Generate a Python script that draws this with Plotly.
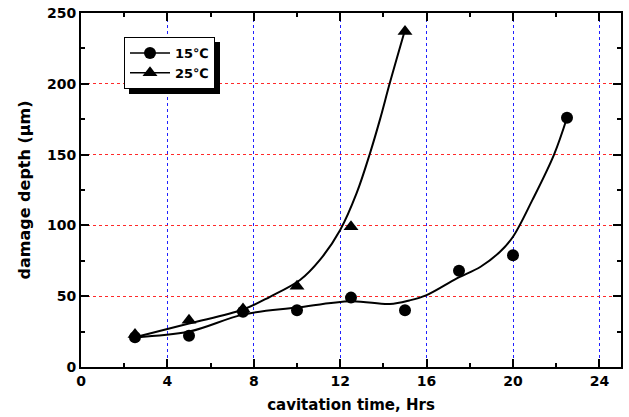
import plotly.graph_objects as go

# measured points
x15 = [2.5, 5, 7.5, 10, 12.5, 15, 17.5, 20, 22.5]
y15 = [21, 22, 39, 40, 49, 40, 68, 79, 176]
x25 = [2.5, 5, 7.5, 10, 12.5, 15]
y25 = [23, 33, 41, 57, 99, 237]

# fitted curves
cx15 = [2.5, 5, 7.5, 10, 12.5, 14.3, 15.2, 16, 17.4, 18.5, 19.4, 20, 20.9, 21.9, 22.5]
cy15 = [21, 25, 37, 42, 46.5, 44.5, 47, 50.8, 62.6, 70.8, 81.4, 92, 118, 150, 176]
cx25 = [2.5, 5, 7.5, 8.75, 10.14, 11.06, 12, 12.76, 13.38, 13.84, 14.3, 15]
cy25 = [21, 30.7, 40.6, 49.6, 61.4, 75.6, 96.8, 122.8, 151, 174.7, 200.7, 238]

legend_names = ["15℃", "25℃"]

FONT = "DejaVu Sans"

fig = go.Figure()

fig.add_trace(go.Scatter(x=cx15, y=cy15, mode="lines", line=dict(color="black", width=2, shape="spline", smoothing=1), showlegend=False, hoverinfo="skip"))
fig.add_trace(go.Scatter(x=cx25, y=cy25, mode="lines", line=dict(color="black", width=2, shape="spline", smoothing=1), showlegend=False, hoverinfo="skip"))
fig.add_trace(go.Scatter(x=x15, y=y15, mode="markers", marker=dict(symbol="circle", size=12, color="black"), showlegend=False))
fig.add_trace(go.Scatter(x=x25, y=y25, mode="markers", marker=dict(symbol="triangle-up", size=13, color="black"), showlegend=False))

# legend entries
fig.add_trace(go.Scatter(x=[None], y=[None], mode="lines+markers", name=legend_names[0],
                         line=dict(color="black", width=1.5), marker=dict(symbol="circle", size=12, color="black")))
fig.add_trace(go.Scatter(x=[None], y=[None], mode="lines+markers", name=legend_names[1],
                         line=dict(color="black", width=1.5), marker=dict(symbol="triangle-up", size=13, color="black")))

axis_common = dict(
    showline=True, linecolor="black", linewidth=2, mirror="allticks",
    ticks="inside", ticklen=8, tickwidth=1.5, tickcolor="black",
    zeroline=False, showgrid=True, griddash="dot", gridwidth=1,
    automargin=False,
    tickfont=dict(family=FONT, size=14, color="black", weight="bold"),
)

W, H = 629, 417
L, R, T, B = 81, 8, 13, 50
PW, PH = W - L - R, H - T - B

def px(xp):
    return (xp - L) / PW

def py(yp):
    return (H - B - yp) / PH

fig.update_layout(
    width=W, height=H,
    margin=dict(l=L, r=R, t=T, b=B),
    paper_bgcolor="white", plot_bgcolor="white",
    xaxis=dict(range=[0, 25], dtick=4, tick0=0, gridcolor="#2020ff",
               minor=dict(dtick=2, ticks="inside", ticklen=4, tickwidth=1.5, tickcolor="black", showgrid=False),
               title=dict(text="cavitation time, Hrs", font=dict(family=FONT, size=15, color="black", weight="bold"), standoff=12),
               **axis_common),
    yaxis=dict(range=[0, 250], dtick=50, tick0=0, gridcolor="#ff2a2a",
               minor=dict(dtick=25, ticks="inside", ticklen=4, tickwidth=1.5, tickcolor="black", showgrid=False),
               title=dict(text="damage depth (μm)", font=dict(family=FONT, size=16, color="black", weight="bold"), standoff=12),
               **axis_common),
    legend=dict(x=px(124), y=py(37), xanchor="left", yanchor="top",
                bgcolor="white", bordercolor="black", borderwidth=1,
                font=dict(family=FONT, size=13, color="black", weight="bold"),
                tracegroupgap=0, itemwidth=40),
    shapes=[dict(type="rect", xref="paper", yref="paper", layer="above",
                 x0=px(129), x1=px(220), y0=py(94), y1=py(42),
                 fillcolor="black", line=dict(width=0))],
    showlegend=True,
)

fig.write_html("out.html", config={"displayModeBar": False},
               post_script="document.body.style.margin='0px';")
